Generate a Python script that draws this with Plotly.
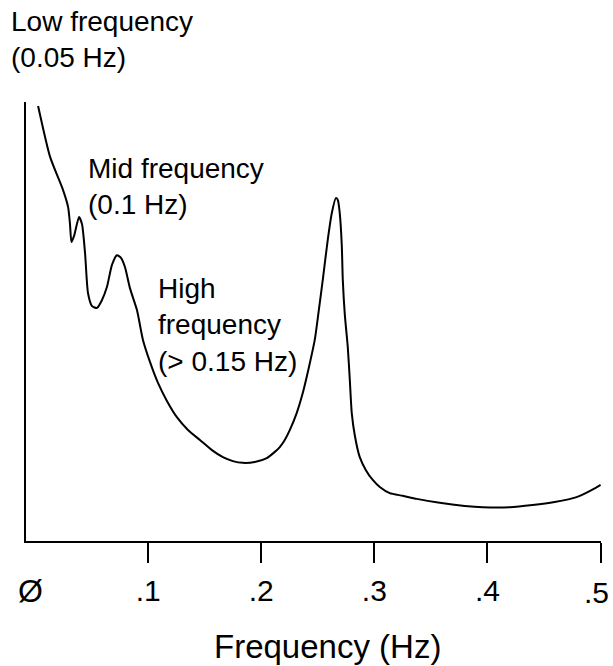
import plotly.graph_objects as go

# Frequency (Hz) and relative spectral power (arbitrary units, 0-100)
freq_hz = [0.0027, 0.0133, 0.0247, 0.0292, 0.0309, 0.0322, 0.0345, 0.0389, 0.0415, 0.0442,
           0.0468, 0.0504, 0.0548, 0.0592, 0.0636, 0.0680, 0.0724, 0.0760, 0.0795, 0.0839,
           0.0901, 0.0954, 0.1016, 0.1087, 0.1166, 0.1254, 0.1352, 0.1458, 0.1564, 0.1661,
           0.1749, 0.1837, 0.1943, 0.2049, 0.2120, 0.2164, 0.2208, 0.2253, 0.2314, 0.2367,
           0.2420, 0.2473, 0.2509, 0.2544, 0.2588, 0.2624, 0.2659, 0.2677, 0.2694, 0.2712,
           0.2721, 0.2739, 0.2765, 0.2783, 0.2800, 0.2827, 0.2871, 0.2924, 0.2986, 0.3048,
           0.3136, 0.3251, 0.3375, 0.3578, 0.3799, 0.3958, 0.4196, 0.4399, 0.4594, 0.4788,
           0.4920, 0.5000]
power = [99.1, 87.5, 80.0, 76.1, 72.2, 68.1, 69.5, 73.8, 72.2, 65.6,
         56.5, 53.5, 53.1, 54.9, 57.9, 62.9, 65.1, 64.5, 62.4, 57.6,
         52.6, 45.8, 40.8, 36.0, 31.9, 28.2, 25.3, 23.0, 20.7, 19.1,
         18.2, 17.8, 18.0, 18.9, 20.3, 21.4, 23.0, 25.3, 29.2, 33.7,
         39.4, 45.8, 52.6, 59.5, 68.6, 74.7, 78.1, 77.7, 74.7, 67.4,
         59.5, 51.5, 44.2, 36.7, 29.2, 24.1, 19.1, 16.2, 13.9, 12.3,
         10.9, 10.3, 9.6, 8.7, 8.0, 7.7, 7.7, 8.2, 8.9, 10.0,
         11.6, 12.8]

tick_vals = [0.1, 0.2, 0.3, 0.4, 0.5]
tick_text = [".1", ".2", ".3", ".4", ".5"]
zero_label = "Ø"

band_labels = ["Low frequency<br>(0.05 Hz)",
               "Mid frequency<br>(0.1 Hz)",
               "High<br>frequency<br>(> 0.15 Hz)"]
axis_title = "Frequency (Hz)"

FONT = "Liberation Sans, Arial, Helvetica, sans-serif"

fig = go.Figure()
fig.add_trace(go.Scatter(x=freq_hz, y=power, mode="lines",
                         line=dict(color="black", width=2, shape="spline", smoothing=0.6),
                         hoverinfo="skip", showlegend=False))

# plot area: x 26..601 px, y 102..541 px
def px_x(p):
    return (p - 26) / 575.0

def px_y(p):
    return (541 - p) / 439.0

annos = [
    dict(text=band_labels[0], x=px_x(9), y=px_y(4)),
    dict(text=band_labels[1], x=px_x(86), y=px_y(151)),
    dict(text=band_labels[2], x=px_x(156), y=px_y(271)),
]
for a in annos:
    fig.add_annotation(text=a["text"], x=a["x"], y=a["y"], xref="paper", yref="paper",
                       xanchor="left", yanchor="top", align="left", showarrow=False,
                       font=dict(family=FONT, size=28, color="black"))

# first and last axis labels sit at the plot corners, placed as annotations
fig.add_annotation(text=zero_label, x=-0.004, y=px_y(591), xref="x", yref="paper",
                   xanchor="center", yanchor="middle", showarrow=False,
                   font=dict(family=FONT, size=32, color="black"))
fig.add_annotation(text=tick_text[-1], x=px_x(611), y=px_y(592), xref="paper", yref="paper",
                   xanchor="right", yanchor="middle", showarrow=False,
                   font=dict(family=FONT, size=30, color="black"))
fig.add_annotation(text=axis_title, x=px_x(327), y=px_y(646), xref="paper", yref="paper",
                   xanchor="center", yanchor="middle", showarrow=False,
                   font=dict(family=FONT, size=33, color="black"))

fig.update_layout(
    width=613, height=666,
    margin=dict(l=26, r=12, t=102, b=125, pad=0, autoexpand=False),
    paper_bgcolor="white", plot_bgcolor="white",
    font=dict(family=FONT, color="black"),
    xaxis=dict(range=[-0.008, 0.5004], showgrid=False, zeroline=False, automargin=False,
               showline=True, linecolor="black", linewidth=2,
               ticks="outside", ticklen=20, tickwidth=2, tickcolor="black",
               tickvals=tick_vals, ticktext=tick_text[:-1] + [""], ticklabelstandoff=2,
               tickfont=dict(family=FONT, size=30, color="black")),
    yaxis=dict(range=[0, 100], showgrid=False, zeroline=False, automargin=False,
               showline=True, linecolor="black", linewidth=2,
               showticklabels=False, ticks=""),
)

fig.write_html("out.html", config={"displayModeBar": False},
               post_script="document.body.style.margin='0px';document.body.style.overflow='hidden';")
